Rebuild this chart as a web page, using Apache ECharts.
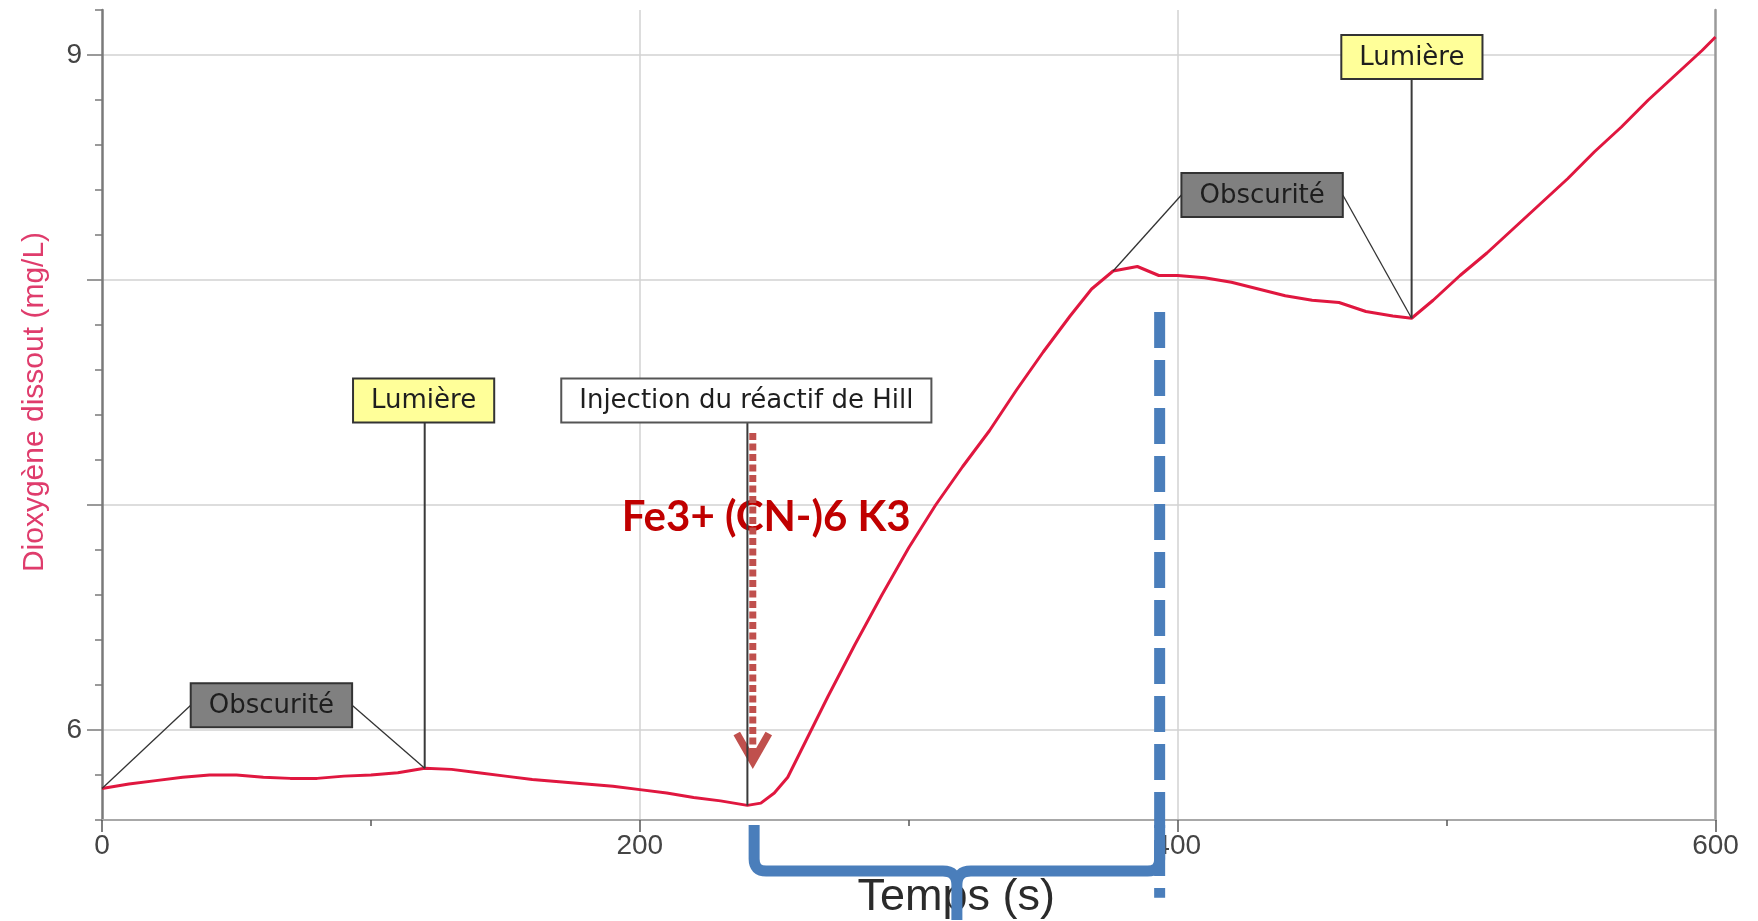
<!DOCTYPE html>
<html>
<head>
<meta charset="utf-8">
<script src="https://cdn.jsdelivr.net/npm/echarts@6/dist/echarts.min.js"></script>
<style>
  html, body { margin: 0; padding: 0; background: #ffffff; }
  #chart { width: 1758px; height: 921px; }
</style>
</head>
<body>
<div id="chart"></div>
<script>
// Dissolved O2 record (mg/L) against time (s)
const times = [0, 10, 20, 30, 40, 50, 60, 70, 80, 90, 100, 110, 120, 130, 140, 150, 160, 170, 180, 190,
  200, 210, 220, 230, 240, 245, 250, 255, 260, 265, 270, 280, 290, 300, 310, 320, 330, 340, 350, 360,
  368, 376, 385, 393, 400, 410, 420, 430, 440, 450, 460, 470, 480, 487, 495, 505, 515, 525, 535, 545,
  555, 565, 575, 585, 595, 600];
const oxygen = [5.74, 5.76, 5.775, 5.79, 5.80, 5.80, 5.79, 5.785, 5.785, 5.795, 5.80, 5.81, 5.83, 5.825, 5.81, 5.795, 5.78, 5.77, 5.76, 5.75,
  5.735, 5.72, 5.70, 5.685, 5.665, 5.675, 5.72, 5.79, 5.91, 6.03, 6.15, 6.38, 6.60, 6.81, 7.00, 7.17, 7.33, 7.51, 7.68, 7.84,
  7.96, 8.04, 8.06, 8.02, 8.02, 8.01, 7.99, 7.96, 7.93, 7.91, 7.90, 7.86, 7.84, 7.83, 7.91, 8.02, 8.12, 8.23, 8.34, 8.45,
  8.57, 8.68, 8.80, 8.91, 9.02, 9.08];

// Axis ticks
const xTickValues = [0, 200, 400, 600];
const yLabelValues = [6, 9];
const yMajorTicks = [6, 7, 8, 9];

// Event callouts: label, style, box centre (s, mg/L), times on the curve they point to
const calloutText = ['Obscurité', 'Lumière', 'Injection du réactif de Hill', 'Obscurité', 'Lumière'];
const calloutKind = ['dark', 'light', 'plain', 'dark', 'light'];
const calloutBox = [[63, 6.11], [119.6, 7.465], [239.6, 7.465], [431.4, 8.378], [487.1, 8.991]];
const calloutTargets = [[0, 120], [120], [240], [376, 487], [487]];

// Reagent note and its arrow
const reagentText = 'Fe3+ (CN-)6 K3';
const reagentLabelAt = [247, 6.944];
const reagentArrowFrom = [242, 7.32];
const reagentArrowTo = [242, 5.86];

// Interval marker: dashed limit and brace under the time axis
const markerTime = 393.3;
const markerDashSpan = [7.858, 5.255];
const braceSpan = [242.5, 393.3];
const braceLevels = [5.578, 5.373, 5.156]; // arm top, bar, stem end

function valueAt(t) {
  for (let i = 0; i < times.length - 1; i++) {
    if (t >= times[i] && t <= times[i + 1]) {
      const f = (t - times[i]) / (times[i + 1] - times[i]);
      return oxygen[i] + f * (oxygen[i + 1] - oxygen[i]);
    }
  }
  return oxygen[oxygen.length - 1];
}

const measureCtx = document.createElement('canvas').getContext('2d');
function textWidth(text, font) { measureCtx.font = font; return measureCtx.measureText(text).width; }

const boxFont = '26px "DejaVu Sans"';
const kindStyle = {
  dark: { fill: '#808080', stroke: '#333333' },
  light: { fill: '#ffff99', stroke: '#333333' },
  plain: { fill: '#ffffff', stroke: '#555555' }
};

const chart = echarts.init(document.getElementById('chart'), null, { renderer: 'canvas' });

const axisGrey = '#7a7a7a';

chart.setOption({
  backgroundColor: '#ffffff',
  animation: false,
  grid: { left: 102, right: 42.5, top: 10, bottom: 101, containLabel: false, outerBoundsMode: 'none' },
  xAxis: {
    type: 'value', min: 0, max: 600, interval: 200,
    axisLine: { show: true, onZero: false, lineStyle: { color: '#a8a8a8', width: 2 } },
    axisTick: { show: true, length: 12, lineStyle: { color: '#555', width: 1.5 } },
    minorTick: { show: true, splitNumber: 2, length: 6, lineStyle: { color: '#555', width: 1.5 } },
    axisLabel: {
      fontSize: 28, color: '#444', margin: 12, fontFamily: 'Liberation Sans',
      formatter: v => (xTickValues.indexOf(v) >= 0 ? String(v) : '')
    },
    splitLine: { show: true, showMinLine: true, showMaxLine: true,
      lineStyle: { color: ['transparent', '#d2d2d2', '#d2d2d2', 'transparent'], width: 1.5 } },
    name: 'Temps (s)', nameLocation: 'middle', nameGap: 55,
    nameTextStyle: { fontSize: 45, color: '#2b2b2b', fontFamily: 'Liberation Sans', padding: [0, 0, 0, 95] }
  },
  yAxis: [
    {
      type: 'value', min: 5.6, max: 9.2, interval: 0.2, position: 'left',
      axisLine: { show: true, onZero: false, lineStyle: { color: axisGrey, width: 2.5 } },
      axisTick: { show: true, length: 7, lineStyle: { color: axisGrey, width: 1.5 } },
      axisLabel: {
        fontSize: 28, color: '#444', margin: 20, fontFamily: 'Liberation Sans',
        formatter: v => (yLabelValues.some(t => Math.abs(t - v) < 1e-6) ? String(Math.round(v)) : '')
      },
      splitLine: { show: true, showMinLine: true, showMaxLine: true,
        lineStyle: { color: ['transparent', 'transparent', '#d2d2d2', 'transparent', 'transparent'], width: 1.5 } },
      name: 'Dioxygène dissout (mg/L)', nameLocation: 'middle', nameGap: 52,
      nameTextStyle: { fontSize: 30, color: '#df3c6c', fontFamily: 'Liberation Sans', padding: [0, 0, 0, 26] }
    },
    {
      type: 'value', min: 5.6, max: 9.2, position: 'right',
      axisLine: { show: true, onZero: false, lineStyle: { color: '#9a9a9a', width: 2.5 } },
      axisTick: { show: false }, axisLabel: { show: false }, splitLine: { show: false }
    },
    {
      type: 'value', min: 5.6, max: 9.2, position: 'left',
      axisLine: { show: false },
      axisTick: { show: true, length: 15, customValues: yMajorTicks, lineStyle: { color: axisGrey, width: 1.5 } },
      axisLabel: { show: false }, splitLine: { show: false }
    }
  ],
  series: [
    {
      name: 'O2', type: 'line', xAxisIndex: 0, yAxisIndex: 0,
      data: times.map((t, i) => [t, oxygen[i]]),
      showSymbol: false, smooth: false, z: 3,
      lineStyle: { color: '#e0173f', width: 3 }
    },
    {
      // reagent note with dotted arrow
      type: 'custom', xAxisIndex: 0, yAxisIndex: 0, clip: false, z: 4,
      data: [[reagentLabelAt[0], reagentLabelAt[1]]],
      renderItem: function (params, api) {
        const lp = api.coord(reagentLabelAt);
        const a = api.coord(reagentArrowFrom);
        const b = api.coord(reagentArrowTo);
        return {
          type: 'group',
          children: [
            { type: 'text', style: { text: reagentText, x: lp[0], y: lp[1], align: 'center', verticalAlign: 'middle',
              font: 'bold 42px Lato', fill: '#c00000' } },
            { type: 'line', shape: { x1: a[0], y1: a[1], x2: b[0], y2: b[1] - 6 },
              style: { stroke: '#c0504d', lineWidth: 7, lineDash: [7, 3.5] } },
            { type: 'polyline', shape: { points: [[b[0] - 16, b[1] - 28], [b[0], b[1]], [b[0] + 16, b[1] - 28]] },
              style: { stroke: '#c0504d', lineWidth: 7.5, fill: null, lineJoin: 'miter', lineCap: 'butt' } }
          ]
        };
      }
    },
    {
      // event callouts
      type: 'custom', xAxisIndex: 0, yAxisIndex: 0, clip: false, z: 5,
      data: calloutBox.map((p, i) => [p[0], p[1], i]),
      encode: { x: 0, y: 1 },
      renderItem: function (params, api) {
        const i = params.dataIndex;
        const c = api.coord([api.value(0), api.value(1)]);
        const w = textWidth(calloutText[i], boxFont) + 36;
        const h = 44;
        const x0 = c[0] - w / 2, y0 = c[1] - h / 2;
        const targets = calloutTargets[i].map(t => api.coord([t, valueAt(t)]));
        const children = [];
        if (calloutKind[i] === 'dark') {
          children.push({ type: 'line', shape: { x1: x0, y1: c[1], x2: targets[0][0], y2: targets[0][1] },
            style: { stroke: '#333', lineWidth: 1.3 } });
          children.push({ type: 'line', shape: { x1: x0 + w, y1: c[1], x2: targets[1][0], y2: targets[1][1] },
            style: { stroke: '#333', lineWidth: 1.3 } });
        } else {
          targets.forEach(p => children.push({ type: 'line', shape: { x1: p[0], y1: y0 + h, x2: p[0], y2: p[1] },
            style: { stroke: '#3a3a3a', lineWidth: 2 } }));
        }
        const ks = kindStyle[calloutKind[i]];
        children.push({ type: 'rect', shape: { x: x0, y: y0, width: w, height: h },
          style: { fill: ks.fill, stroke: ks.stroke, lineWidth: 2 } });
        children.push({ type: 'text', style: { text: calloutText[i], x: c[0], y: c[1] + 1, align: 'center',
          verticalAlign: 'middle', font: boxFont, fill: '#1e1e1e' } });
        return { type: 'group', children: children };
      }
    },
    {
      // dashed limit and brace marking the interval
      type: 'custom', xAxisIndex: 0, yAxisIndex: 0, clip: false, z: 6,
      data: [[markerTime, markerDashSpan[0]]],
      renderItem: function (params, api) {
        const top = api.coord([markerTime, markerDashSpan[0]]);
        const bot = api.coord([markerTime, markerDashSpan[1]]);
        const L = api.coord([braceSpan[0], braceLevels[0]]);
        const R = api.coord([braceSpan[1], braceLevels[0]]);
        const yBar = api.coord([braceSpan[0], braceLevels[1]])[1];
        const yEnd = api.coord([braceSpan[0], braceLevels[2]])[1];
        const xm = (L[0] + R[0]) / 2;
        const r = 12, r2 = 14;
        const d = 'M' + L[0] + ' ' + L[1] + ' L' + L[0] + ' ' + (yBar - r) +
          ' Q' + L[0] + ' ' + yBar + ' ' + (L[0] + r) + ' ' + yBar +
          ' L' + (xm - r2) + ' ' + yBar + ' Q' + xm + ' ' + yBar + ' ' + xm + ' ' + (yBar + r2) +
          ' L' + xm + ' ' + yEnd +
          ' M' + R[0] + ' ' + L[1] + ' L' + R[0] + ' ' + (yBar - r) +
          ' Q' + R[0] + ' ' + yBar + ' ' + (R[0] - r) + ' ' + yBar +
          ' L' + (xm + r2) + ' ' + yBar + ' Q' + xm + ' ' + yBar + ' ' + xm + ' ' + (yBar + r2);
        return {
          type: 'group',
          children: [
            { type: 'line', shape: { x1: top[0], y1: top[1], x2: bot[0], y2: bot[1] },
              style: { stroke: '#4a7ebb', lineWidth: 11, lineDash: [36, 12] } },
            { type: 'path', shape: { pathData: d },
              style: { stroke: '#4a7ebb', lineWidth: 11, fill: null, lineJoin: 'round' } }
          ]
        };
      }
    }
  ]
});
</script>
</body>
</html>
